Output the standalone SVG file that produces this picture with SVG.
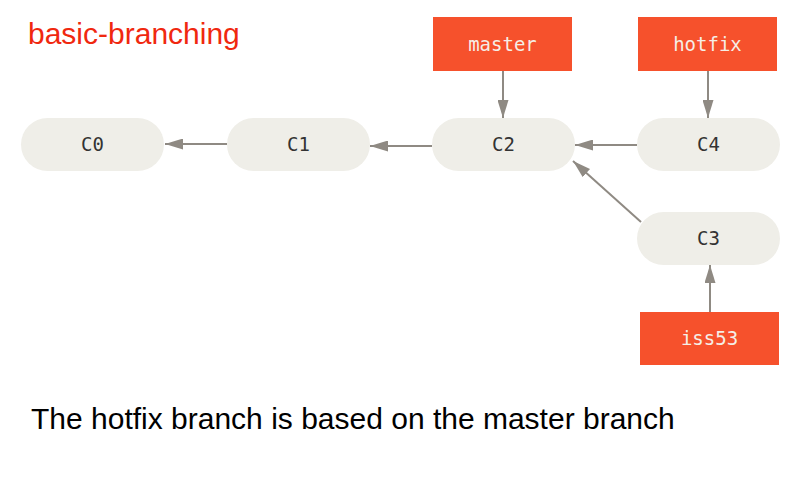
<svg xmlns="http://www.w3.org/2000/svg" width="800" height="480" viewBox="0 0 800 480">
<defs>
<marker id="ah" viewBox="0 0 18 11" refX="18" refY="5.5" markerWidth="18" markerHeight="11" markerUnits="userSpaceOnUse" orient="auto">
<path d="M0,0 L18,5.5 L0,11 z" fill="#8f8a83"/>
</marker>
</defs>
<style>
.commit rect{fill:#efeee8}
.commit text{font-family:"DejaVu Sans Mono",monospace;font-size:19px;fill:#333;text-anchor:middle}
.branch rect{fill:#f6512c}
.branch text{font-family:"DejaVu Sans Mono",monospace;font-size:19px;fill:#f5eee6;text-anchor:middle}
.conn line{stroke:#8f8a83;stroke-width:2;marker-end:url(#ah)}
</style>
<rect width="800" height="480" fill="#fff"/>
<text x="28" y="44" font-family="Liberation Sans,Arial,sans-serif" font-size="30" fill="#f0280f">basic-branching</text>
<g class="conn">
<line x1="227" y1="144" x2="165" y2="144"/>
<line x1="432" y1="146" x2="370" y2="146"/>
<line x1="637" y1="145" x2="575" y2="145"/>
<line x1="641" y1="222" x2="573" y2="161"/>
<line x1="503" y1="71" x2="503" y2="118"/>
<line x1="708" y1="71" x2="708" y2="118"/>
<line x1="710" y1="312" x2="710" y2="265"/>
</g>
<g id="C0" class="commit"><rect x="21" y="118" width="143" height="53" rx="26.5"/><text x="92.5" y="151">C0</text></g>
<g id="C1" class="commit"><rect x="227" y="118" width="143" height="53" rx="26.5"/><text x="298.5" y="151">C1</text></g>
<g id="C2" class="commit"><rect x="432" y="118" width="143" height="53" rx="26.5"/><text x="503.5" y="151">C2</text></g>
<g id="C4" class="commit"><rect x="637" y="118" width="143" height="53" rx="26.5"/><text x="708.5" y="151">C4</text></g>
<g id="C3" class="commit"><rect x="637" y="212" width="143" height="53" rx="26.5"/><text x="708.5" y="245">C3</text></g>
<g id="master" class="branch"><rect x="433" y="17" width="139" height="54"/><text x="502.5" y="51">master</text></g>
<g id="hotfix" class="branch"><rect x="638" y="17" width="139" height="54"/><text x="707.5" y="51">hotfix</text></g>
<g id="iss53" class="branch"><rect x="640" y="312" width="139" height="53"/><text x="709.5" y="345">iss53</text></g>
<text x="31" y="429" font-family="Liberation Sans,Arial,sans-serif" font-size="30" fill="#000">The hotfix branch is based on the master branch</text>
</svg>
